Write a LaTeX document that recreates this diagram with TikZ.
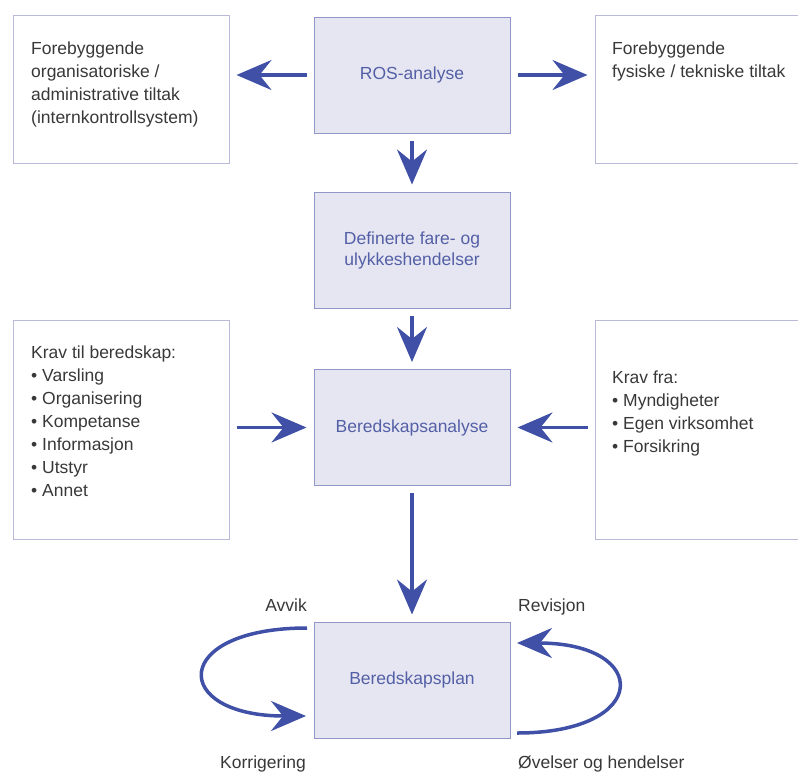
\documentclass[tikz,border=0pt]{standalone}
\usepackage{fontspec}
\setmainfont{Liberation Sans}
\usetikzlibrary{arrows.meta}
\definecolor{arrowblue}{HTML}{3F50A6}
\definecolor{boxfill}{HTML}{E6E6F3}
\definecolor{boxline}{HTML}{9096C8}
\definecolor{whiteline}{HTML}{B8BAD8}
\definecolor{bluetext}{HTML}{5460A6}
\definecolor{greytext}{HTML}{383838}
\begin{document}
\begin{tikzpicture}[x=1pt,y=-1pt,
  bluebox/.style={draw=boxline, fill=boxfill, line width=1pt, minimum width=196pt, minimum height=116pt, inner sep=0pt, text=bluetext, font=\fontsize{17.5}{21}\selectfont, align=center},
  whitebox/.style={draw=whiteline, line width=1pt, inner sep=0pt},
  bodytext/.style={inner sep=0pt, anchor=north west, align=left, text=greytext, font=\fontsize{17.5}{23}\selectfont},
  lbl/.style={inner sep=0pt, text=greytext, font=\fontsize{17.5}{23}\selectfont},
  arr/.style={draw=arrowblue, line width=3.5pt, -{Stealth[length=35pt,width=30pt,inset=12pt]}},
  gap/.style={shorten <=7pt, shorten >=7pt},
]
\useasboundingbox (0,0) rectangle (798,774);
\clip (0,0) rectangle (798,774);

% centre column
\node[bluebox] (ros) at (412,75) {ROS-analyse};
\node[bluebox] (def) at (412,250) {Definerte fare- og\\ulykkeshendelser};
\node[bluebox] (ana) at (412,427.5) {Beredskapsanalyse};
\node[bluebox] (plan) at (412,680) {Beredskapsplan};

% side boxes
\node[whitebox, minimum width=216pt, minimum height=148pt] (org) at (121,89) {};
\node[whitebox, minimum width=216pt, minimum height=148pt] (tek) at (703,89) {};
\node[whitebox, minimum width=216pt, minimum height=219pt] (krav) at (121,429.5) {};
\node[whitebox, minimum width=216pt, minimum height=219pt] (kravfra) at (703,429.5) {};

\node[bodytext] (orgtxt) at (31,42) {Forebyggende\\organisatoriske /\\administrative tiltak\\(internkontrollsystem)};
\node[bodytext] (tektxt) at (612,42) {Forebyggende\\fysiske / tekniske tiltak};
\node[bodytext] (kravtxt) at (31,346) {Krav til beredskap:\\\textbullet\ Varsling\\\textbullet\ Organisering\\\textbullet\ Kompetanse\\\textbullet\ Informasjon\\\textbullet\ Utstyr\\\textbullet\ Annet};
\node[bodytext] (kravfratxt) at (612,371) {Krav fra:\\\textbullet\ Myndigheter\\\textbullet\ Egen virksomhet\\\textbullet\ Forsikring};

% straight arrows
\draw[arr, gap] (ros.west) -- (org.east |- ros.west);
\draw[arr, gap] (ros.east) -- (tek.west |- ros.east);
\draw[arr, gap] (ros.south) -- (def.north);
\draw[arr, gap] (def.south) -- (ana.north);
\draw[arr, gap] (krav.east |- ana.west) -- (ana.west);
\draw[arr, gap] (kravfra.west |- ana.east) -- (ana.east);
\draw[arr, gap] (ana.south) -- (plan.north);

% loops
\coordinate (la) at (307,628);
\coordinate (lb) at (306,716);
\coordinate (ra) at (517,733);
\coordinate (rb) at (517,643);
\draw[arr] (la) .. controls (170,628) and (170,716) .. (lb);
\draw[arr] (ra) .. controls (651,733) and (651,643) .. (rb);

% labels
\node[lbl, anchor=base east] (avvik) at (307,611) {Avvik};
\node[lbl, anchor=base west] (rev) at (518,611) {Revisjon};
\node[lbl, anchor=base west] (korr) at (220,768) {Korrigering};
\node[lbl, anchor=base west] (ovel) at (518,768) {Øvelser og hendelser};
\end{tikzpicture}
\end{document}
